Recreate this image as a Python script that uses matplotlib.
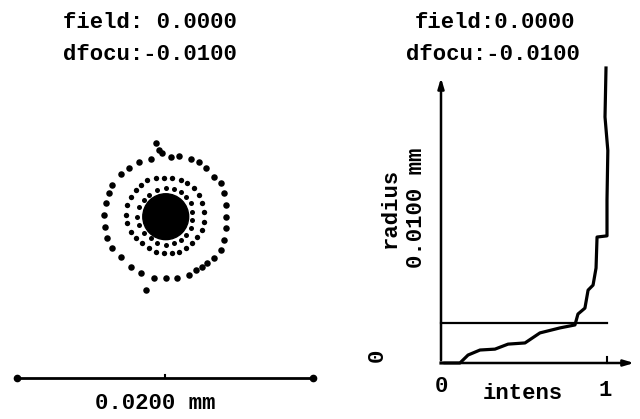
import matplotlib
matplotlib.use("Agg")
import matplotlib.pyplot as plt

W, H = 640, 419
FONT = dict(family=["Liberation Mono", "DejaVu Sans Mono"], weight="bold", size=16)

# ---- text ----
field_value = "0.0000"
dfocus_value = "-0.0100"
spot_scale_label = "0.0200 mm"
radius_scale_label = "0.0100 mm"
spot_scale_um = 20.0          # 0.0200 mm scale bar

# ---- spot diagram (micrometres, relative to spot centre) ----
outer_x = [-0.63, -0.41, -0.18, 0.38, 0.95, 1.73, 2.30, 2.75, 3.31, 3.76, 3.99, 4.10, 4.10, 4.10,
           3.99, 3.76, 3.31, 2.86, 2.52, 2.07, 1.62, 0.83, 0.05, -0.74, -1.64, -2.32, -3.00, -3.56,
           -3.90, -4.05, -4.12, -4.01, -3.78, -3.56, -3.00, -2.43, -1.76, -0.97, -1.31]
outer_y = [4.98, 4.53, 4.30, 4.08, 4.14, 3.92, 3.74, 3.29, 2.72, 2.27, 1.60, 0.81, 0.02, -0.77,
           -1.55, -2.23, -2.79, -3.13, -3.36, -3.58, -3.92, -4.14, -4.14, -4.14, -3.81, -3.36, -2.68, -2.12,
           -1.44, -0.65, 0.14, 0.92, 1.60, 2.16, 2.88, 3.33, 3.69, 3.92, -4.93]
middle_x = [-0.63, -0.07, 0.50, 1.06, 1.51, 1.96, 2.30, 2.52, 2.63, 2.63, 2.52, 2.18, 1.85, 1.40,
            0.95, 0.50, -0.07, -0.63, -1.08, -1.53, -1.98, -2.32, -2.54, -2.66, -2.54, -2.32, -1.98,
            -1.64, -1.19]
middle_y = [2.61, 2.61, 2.61, 2.50, 2.27, 1.94, 1.49, 0.92, 0.36, -0.32, -0.88, -1.33, -1.78, -2.12,
            -2.34, -2.45, -2.45, -2.34, -2.12, -1.78, -1.44, -0.99, -0.43, 0.14, 0.81, 1.37, 1.82,
            2.16, 2.50]
inner_x = [-1.08, -0.52, 0.05, 0.61, 1.06, 1.40, 1.73, 1.85, 1.85, 1.73, 1.40, 1.06, 0.61, 0.05,
           -0.52, -0.97, -1.42, -1.76, -1.87, -1.76, -1.42]
inner_y = [1.49, 1.82, 1.94, 1.89, 1.71, 1.37, 0.92, 0.36, -0.20, -0.77, -1.22, -1.55, -1.78, -1.89,
           -1.78, -1.44, -1.10, -0.54, 0.02, 0.70, 1.15]
core_x, core_y, core_r = 0.05, 0.02, 1.55

# ---- encircled intensity vs radius ----
intens = [0, 0.114, 0.163, 0.235, 0.325, 0.404, 0.506, 0.596, 0.717, 0.807, 0.825, 0.867, 0.886,
          0.916, 0.934, 0.940, 1.0, 1.0, 1.005, 0.988, 0.994]
radius_mm = [0, 0, 0.00027, 0.00044, 0.00047, 0.00064, 0.00068, 0.00102, 0.00119, 0.00129, 0.00166,
             0.00186, 0.00247, 0.00264, 0.00322, 0.00427, 0.00431, 0.00553, 0.0072, 0.00834, 0.0100]
ref_radius_mm = 0.00136


def fx(px):
    return px / W


def fy(py):
    return 1 - py / H


fig = plt.figure(figsize=(W / 100, H / 100), dpi=100)
fig.patch.set_facecolor("white")

# ---------------- left: spot diagram ----------------
axL = fig.add_axes([fx(17), fy(400), 296 / W, 300 / H])
axL.set_xlim(-spot_scale_um / 2, spot_scale_um / 2)
ppu = 296 / spot_scale_um
axL.set_ylim(-(400 - 217) / ppu, (217 - 100) / ppu)
axL.axis("off")
axL.scatter(outer_x, outer_y, s=22, c="black", linewidths=0)
axL.scatter(middle_x, middle_y, s=15, c="black", linewidths=0)
axL.scatter(inner_x, inner_y, s=13, c="black", linewidths=0)
axL.add_patch(plt.Circle((core_x, core_y), core_r, color="black"))
bar_y = -(378 - 217) / ppu
axL.plot([-spot_scale_um / 2, spot_scale_um / 2], [bar_y, bar_y], color="black", lw=2.0,
         solid_capstyle="round", clip_on=False)
axL.plot([-spot_scale_um / 2, spot_scale_um / 2], [bar_y, bar_y], "o", color="black", ms=4.5,
         clip_on=False)
axL.plot([0, 0], [bar_y, bar_y + 3 / ppu], color="black", lw=1.5, clip_on=False)

fig.text(fx(150), fy(22), "field: " + field_value, ha="center", va="center", **FONT)
fig.text(fx(150), fy(55), "dfocu:" + dfocus_value, ha="center", va="center", **FONT)
fig.text(fx(155), fy(403), spot_scale_label, ha="center", va="center", **FONT)

# ---------------- right: intensity vs radius ----------------
x0px, x1px = 441, 607
y0px, y1px = 363, 68
xs = (x1px - x0px)
ys = (y0px - y1px) / 0.01
xmin, xmax = -0.05, 1.2
ymin, ymax = -0.0005, 0.0105
axR = fig.add_axes([fx(x0px + xmin * xs), fy(y0px - ymin * ys), (xmax - xmin) * xs / W,
                    (ymax - ymin) * ys / H])
axR.set_xlim(xmin, xmax)
axR.set_ylim(ymin, ymax)
axR.axis("off")

axR.annotate("", xy=(1.18, 0), xytext=(0, 0),
             arrowprops=dict(arrowstyle="-|>,head_length=0.6,head_width=0.18", color="black", lw=1.8))
axR.annotate("", xy=(0, 0.00976), xytext=(0, 0),
             arrowprops=dict(arrowstyle="-|>,head_length=0.6,head_width=0.18", color="black", lw=1.8))
axR.plot([1, 1], [0, 0.00022], color="black", lw=1.5)
axR.plot([0, 1.0], [ref_radius_mm, ref_radius_mm], color="black", lw=1.6)
axR.plot(intens, radius_mm, color="black", lw=2.3, solid_joinstyle="round", clip_on=False)

fig.text(fx(495), fy(22), "field:" + field_value, ha="center", va="center", **FONT)
fig.text(fx(493), fy(55), "dfocu:" + dfocus_value, ha="center", va="center", **FONT)
fig.text(fx(441), fy(386), "0", ha="center", va="center", **FONT)
fig.text(fx(523), fy(393), "intens", ha="center", va="center", **FONT)
fig.text(fx(605), fy(390), "1", ha="center", va="center", **FONT)
fig.text(fx(377), fy(355), "0", ha="center", va="center", rotation=90, **FONT)
fig.text(fx(390), fy(208), "radius", ha="center", va="center", rotation=90, **FONT)
fig.text(fx(417), fy(208), radius_scale_label, ha="center", va="center", rotation=90, **FONT)

fig.savefig("out.png", dpi=100, facecolor="white")
